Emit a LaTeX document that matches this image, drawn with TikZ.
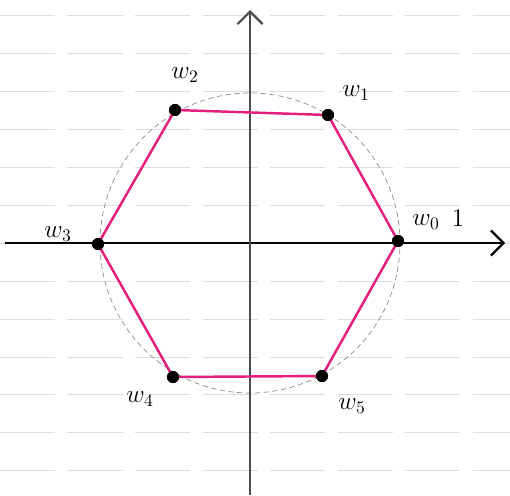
\documentclass[tikz,border=0pt]{standalone}
\usepackage{tikz}
\usetikzlibrary{arrows.meta}
\usetikzlibrary{positioning}

\definecolor{hexpink}{RGB}{228,30,122}

\tikzset{
  vertex/.style={circle,fill=black,inner sep=0pt,minimum size=0.24cm},
  wlabel/.style={font=\Large,text=black},
  axisline/.style={black,line width=1pt},
  paperline/.style={black!13,dashed,dash pattern=on 1.1cm off 0.25cm,very thin}
}

\begin{document}
\begin{tikzpicture}
\useasboundingbox (-5,-5.04) rectangle (5.2,4.86);
% lined paper
\foreach \i in {-6,...,6}
  \draw[paperline] (-5,\i*0.758) -- (5.2,\i*0.758);

% unit circle
\draw[black!45,thin,dash pattern=on 3pt off 2pt] (0,0) circle (3);

% axes
\draw[axisline,-{Straight Barb[length=0.25cm,width=0.5cm,line width=1.3pt]}] (-4.9,0) -- (5.1,0);
\draw[axisline,black!70,-{Straight Barb[length=0.25cm,width=0.5cm,line width=1.3pt]}] (0,-5.04) -- (0,4.66);

% roots of unity
\node[vertex] (w0) at (2.96,0.04) {};
\node[vertex] (w1) at (1.56,2.56) {};
\node[vertex] (w2) at (-1.5,2.66) {};
\node[vertex] (w3) at (-3.04,-0.02) {};
\node[vertex] (w4) at (-1.54,-2.68) {};
\node[vertex] (w5) at (1.44,-2.66) {};

\draw[hexpink,line width=1.4pt] (w0.center) -- (w1.center) -- (w2.center) -- (w3.center)
  -- (w4.center) -- (w5.center) -- cycle;
\foreach \v in {w0,w1,w2,w3,w4,w5}
  \node[vertex] at (\v) {};

\node[wlabel] (l0) at (3.52,0.42) {$w_0$};
\node[wlabel] (one) at (4.16,0.5) {$1$};
\node[wlabel] (l1) at (2.12,3.0) {$w_1$};
\node[wlabel] (l2) at (-1.3,3.36) {$w_2$};
\node[wlabel] (l3) at (-3.84,0.18) {$w_3$};
\node[wlabel] (l4) at (-2.2,-3.12) {$w_4$};
\node[wlabel] (l5) at (2.04,-3.26) {$w_5$};

\end{tikzpicture}
\end{document}
